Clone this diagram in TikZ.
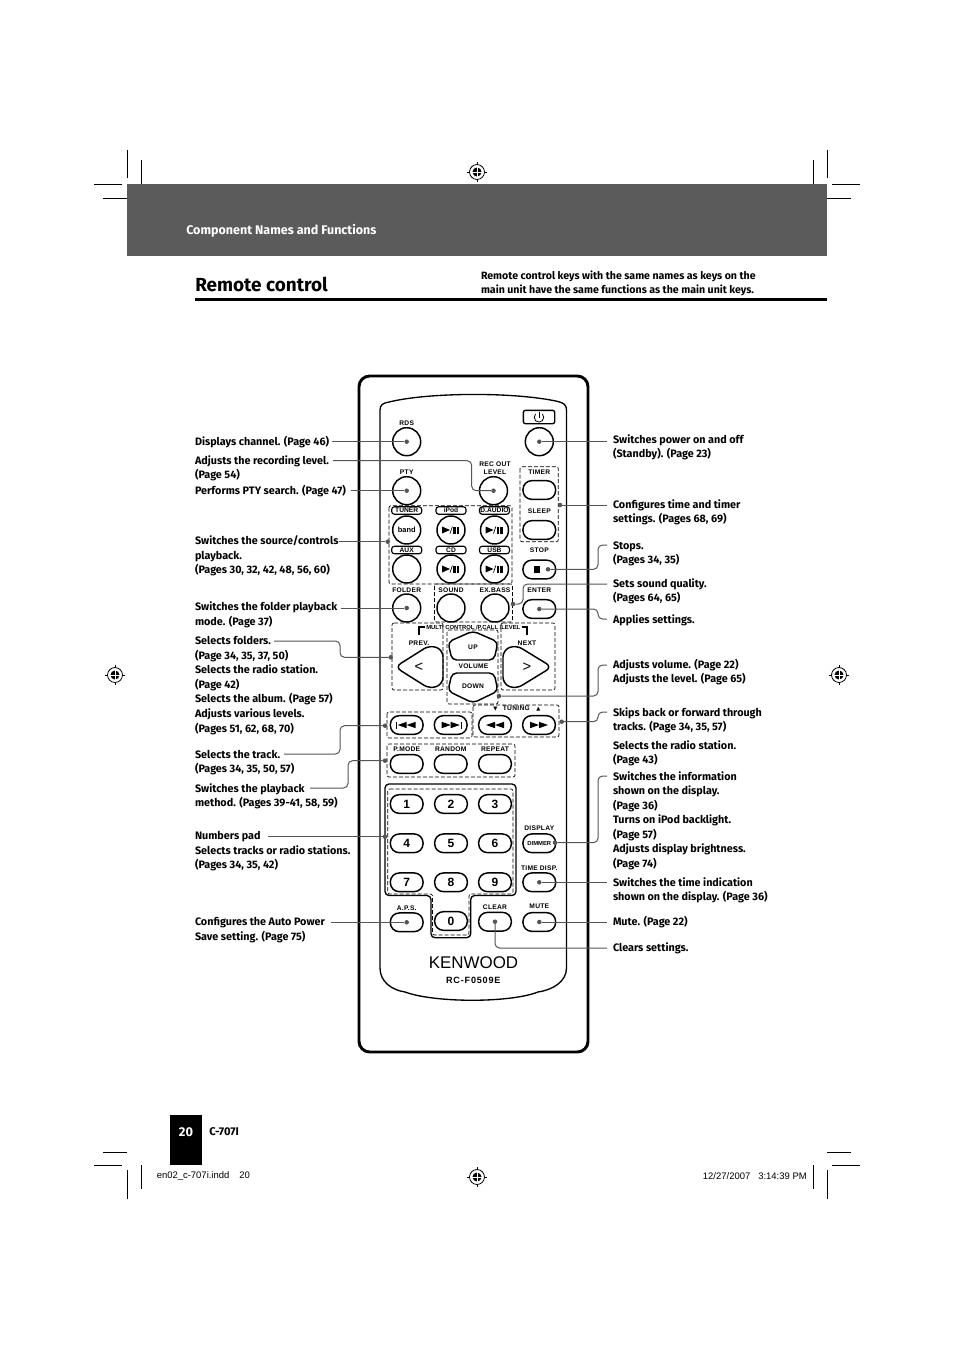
\documentclass[tikz,border=0pt]{standalone}
\usepackage{fontspec}
\setmainfont{Fira Sans}
\newfontfamily\keyf{Liberation Sans}
\newfontfamily\keyw[LetterSpace=4]{Liberation Sans}
\newfontfamily\keyx[LetterSpace=9]{Liberation Sans}
\usetikzlibrary{calc}
\definecolor{leadc}{HTML}{555555}
\definecolor{headc}{HTML}{5B5B5B}
\tikzset{
  x=.75pt,y=-.75pt,
  crop/.style={line width=.75pt,black},
  body/.style={line width=2.2pt,black,rounded corners=8pt},
  panel/.style={line width=1pt,black},
  lead/.style={line width=.75pt,leadc,rounded corners=3.4pt},
  dot/.style={circle,fill=leadc,inner sep=0,outer sep=0,minimum size=3.4pt},
  dashbox/.style={line width=.5pt,dash pattern=on 3pt off 1.5pt,black,rounded corners=1.5pt},
  circbtn/.style={circle,draw,line width=1.1pt,inner sep=0,minimum size=21pt},
  pillbtn/.style={rectangle,draw,line width=1.1pt,rounded corners=6.6pt,inner sep=0,minimum width=24.5pt,minimum height=14pt},
  tagbtn/.style={rectangle,draw,line width=.85pt,rounded corners=2pt,inner sep=0,minimum width=22.5pt,minimum height=5.6pt,font=\keyf\bfseries\fontsize{5}{5}\selectfont},
  keylab/.style={inner sep=0,font=\keyw\bfseries\fontsize{5}{6}\selectfont,align=center},
  numlab/.style={font=\keyf\bfseries\fontsize{9}{10}\selectfont},
  note/.style={anchor=north west,inner sep=0,outer sep=0,align=left,font=\bfseries\fontsize{8.1}{10.9}\selectfont},
}
\newcommand\fs{\rule{0pt}{7.5pt}}
\newcommand\lab[4]{\node[note] (#1) at (#2,#3-5.7) {\fs #4};}
\newcommand\regmark[1]{%
  \draw[line width=.4pt] ($(#1)+(-10,0)$) -- ($(#1)+(10,0)$) ($(#1)+(0,-10)$) -- ($(#1)+(0,10)$);
  \draw[line width=.6pt,fill=white] (#1) circle (5.6pt);
  \fill (#1) circle (3.4pt);
  \draw[white,line width=.5pt] ($(#1)+(-4.6,0)$) -- ($(#1)+(4.6,0)$) ($(#1)+(0,-4.6)$) -- ($(#1)+(0,4.6)$);
}
\newcommand\playpause[1]{%
  \fill ($(#1)+(-9,-3.5)$) -- ($(#1)+(-1,0)$) -- ($(#1)+(-9,3.5)$) -- cycle;
  \draw[line width=.5pt] ($(#1)+(-1,3.6)$) -- ($(#1)+(1.4,-3.6)$);
  \fill ($(#1)+(2.2,-3.5)$) rectangle ($(#1)+(4.6,3.5)$);
  \fill ($(#1)+(5.8,-3.5)$) rectangle ($(#1)+(8.2,3.5)$);
}
\newcommand\dtri[2]{%
  \fill ($(#1)+(-9*#2,-3.2)$) -- ($(#1)+(0,0)$) -- ($(#1)+(-9*#2,3.2)$) -- cycle;
  \fill ($(#1)+(0,-3.2)$) -- ($(#1)+(9*#2,0)$) -- ($(#1)+(0,3.2)$) -- cycle;
}
\begin{document}
\begin{tikzpicture}
\useasboundingbox (0,0) rectangle (954,1350);
% header
\fill[headc] (127,184) rectangle (827,256);
\node[anchor=west,inner sep=0,white,font=\bfseries\fontsize{9.4}{11}\selectfont] (section) at (186,230.5) {Component Names and Functions};
\node[anchor=base west,inner sep=0,font=\bfseries\fontsize{14.2}{18}\selectfont] (title) at (195,291) {Remote control};
\fill (195,298) rectangle (827,301);
\node[note,font=\bfseries\fontsize{7.95}{10.9}\selectfont] (intro) at (481,269.3) {\fs Remote control keys with the same names as keys on the\\main unit have the same functions as the main unit keys.};
% crop marks
\draw[crop] (127.5,150)--(127.5,178) (141.5,160)--(141.5,184) (94,184)--(122,184) (103,198)--(127,198);
\draw[crop] (827.5,150)--(827.5,178) (813.5,160)--(813.5,184) (832,184)--(860,184) (827,198)--(851,198);
\draw[crop] (127.5,1170)--(127.5,1199) (141.5,1165)--(141.5,1189) (94,1165)--(122,1165) (103,1152)--(127,1152);
\draw[crop] (827.5,1170)--(827.5,1199) (813.5,1165)--(813.5,1189) (832,1165)--(860,1165) (827,1152)--(851,1152);
\coordinate (r1) at (477,172); \coordinate (r2) at (477,1177); \coordinate (r3) at (115,675); \coordinate (r4) at (839,675);
\regmark{r1}\regmark{r2}\regmark{r3}\regmark{r4}
% footer
\fill (170,1115) rectangle (202,1165);
\node[white,inner sep=0,font=\bfseries\fontsize{9.6}{12}\selectfont] (pageno) at (186,1132) {20};
\node[anchor=west,inner sep=0,font=\bfseries\fontsize{8.4}{10}\selectfont] (model) at (209,1132) {C-707I};
\node[anchor=west,inner sep=0,font=\keyf\fontsize{7.1}{9}\selectfont] (fileinfo) at (156.5,1176) {en02\_c-707i.indd\hspace{7.5pt}20};
\node[anchor=east,inner sep=0,font=\keyf\fontsize{7.1}{9}\selectfont] (dateinfo) at (807,1176) {12/27/2007\hspace{6pt}3:14:39 PM};
% remote body
\draw[body] (359,376) rectangle (588,1052);
\draw[panel] (380,968) -- (380,410) .. controls (380,405) and (383,403) .. (389,402)
  .. controls (430,392) and (516,392) .. (558,401.5) .. controls (564,403) and (566.5,405) .. (566.5,410)
  -- (566.5,968) .. controls (566.5,982) and (552,990) .. (538,992)
  .. controls (510,1003) and (435,1003) .. (405,992) .. controls (392,990) and (380,982) .. (380,968);
% dashed groups
\draw[dashbox] (389,505.7) rectangle (512,584);
\draw[dashbox] (434.5,584) rectangle (512.5,622);
\draw[dashbox] (520,466.7) rectangle (558.3,541.7);
\draw[dashbox] (392,623) -- (443,623) -- (443,690) -- (392,690) -- cycle;
\draw[dashbox] (447,630) rectangle (498,704);
\draw[dashbox] (501,623) -- (555,623) -- (555,690) -- (501,690) -- cycle;
\draw[dashbox] (387,712) rectangle (472,738);
\draw[dashbox] (473,705) rectangle (559,737);
\draw[dashbox] (387,744) rectangle (515,777);
% number pad outline
\draw[line width=1pt,rounded corners=3pt] (385,784) -- (516,784) -- (516,895.5) -- (470.7,895.5) -- (470.7,937.7) -- (431,937.7) -- (431,895.5) -- (385,895.5) -- cycle;
\draw[dashbox] (387.7,789) -- (513,789) -- (513,894) -- (469,894) -- (469,935) -- (432.5,935) -- (432.5,894) -- (387.7,894) -- cycle;
% circular buttons
\node[circbtn] (rds) at (406.7,441.7) {};
\node[circbtn] (power) at (539.3,441.7) {};
\node[circbtn] (pty) at (406.7,490.7) {};
\node[circbtn] (rec) at (493.5,490.7) {};
\node[circbtn,font=\keyf\bfseries\fontsize{5.6}{6}\selectfont] (band) at (406.7,530) {band};
\node[circbtn] (ipod) at (451,530) {};
\node[circbtn] (daudio) at (494.5,530) {};
\node[circbtn] (aux) at (406.7,569) {};
\node[circbtn] (cd) at (451,569) {};
\node[circbtn] (usb) at (494.5,569) {};
\node[circbtn] (folder) at (406.7,608) {};
\node[circbtn] (sound) at (451,608) {};
\node[circbtn] (exbass) at (495,608) {};
\playpause{ipod}\playpause{daudio}\playpause{cd}\playpause{usb}
% power tag
\node[draw,line width=1pt,rounded corners=1.5pt,inner sep=0,minimum width=23.5pt,minimum height=10pt] (powertag) at (539,417) {};
\draw[line width=.6pt] (535.6,413.9) arc[start angle=135,end angle=405,radius=3.6pt];
\draw[line width=.6pt] (539,411.5) -- (539,418);
% source tags
\node[tagbtn] (tuner) at (406.7,510.5) {TUNER};
\node[tagbtn] (ipodt) at (451,510.5) {iPod};
\node[tagbtn] (dauct) at (494.5,510.5) {D.AUDIO};
\node[tagbtn] (auxt) at (406.7,550) {AUX};
\node[tagbtn] (cdt) at (451,550) {CD};
\node[tagbtn] (usbt) at (494.5,550) {USB};
% pills right column
\node[pillbtn] (timer) at (539.3,490) {};
\node[pillbtn] (sleep) at (539.3,530) {};
\node[pillbtn] (stop) at (539.3,569.5) {};
\fill (533.8,566) rectangle (540,573);
\node[pillbtn] (enter) at (539.3,609) {};
% key labels
\node[keylab] (lrds) at (406.7,422.7) {RDS};
\node[keylab] (lpty) at (406.7,471.7) {PTY};
\node[keylab] (lrec) at (495,468) {REC OUT\\LEVEL};
\node[keylab] (ltimer) at (539.3,471.7) {TIMER};
\node[keylab] (lsleep) at (539.3,511) {SLEEP};
\node[keylab] (lstop) at (539.3,550.3) {STOP};
\node[keylab] (lenter) at (539.3,590) {ENTER};
\node[keylab] (lfolder) at (406.7,590) {FOLDER};
\node[keylab] (lsound) at (451,590) {SOUND};
\node[keylab] (lexb) at (495,590) {EX.BASS};
% multi control
\node[inner sep=0,font=\keyf\bfseries\fontsize{4.4}{5}\selectfont] (lmulti) at (473.3,627) {MULTI CONTROL /P.CALL /LEVEL};
\draw[line width=1pt] (419,635) -- (419,627) -- (425,627);
\draw[line width=1pt] (527,635) -- (527,627) -- (521.5,627);
\draw[line width=1.1pt,rounded corners=5pt] (395,667) -- (430,645) -- (443,650) -- (443,684) -- (430,689) -- cycle;
\draw[line width=1.1pt,rounded corners=5pt] (552,667) -- (516,645) -- (503,650) -- (503,684) -- (516,689) -- cycle;
\draw[line width=1.1pt,rounded corners=3.5pt] (473,631) -- (498,642) -- (494,660) -- (452,660) -- (448,642) -- cycle;
\draw[line width=1.1pt,rounded corners=3.5pt] (473,703) -- (498,691) -- (494,673) -- (452,673) -- (448,691) -- cycle;
\node[keylab] (lprev) at (419,643) {PREV.};
\node[keylab] (lnext) at (527,643) {NEXT};
\node[keylab] (lup) at (473,647) {UP};
\node[keylab] (ldown) at (473,686) {DOWN};
\node[keylab] (lvol) at (473.5,666) {VOLUME};
\node[inner sep=0,font=\keyf\fontsize{11}{12}\selectfont] (lt) at (419,667) {<};
\node[inner sep=0,font=\keyf\fontsize{11}{12}\selectfont] (gt) at (527,667) {>};
% transport row
\node[pillbtn] (skipb) at (406.7,725) {};
\node[pillbtn] (skipf) at (450.7,725) {};
\node[pillbtn] (rew) at (495,725) {};
\node[pillbtn] (ffw) at (539,725) {};
\dtri{skipb}{-1}\dtri{skipf}{1}\dtri{rew}{-1}\dtri{ffw}{1}
\draw[line width=.9pt] (396.2,721.5) -- (396.2,728.5) (461.2,721.5) -- (461.2,728.5);
\node[keylab] (ltuning) at (517,708) {\fontspec{DejaVu Sans}\fontsize{4}{5}\selectfont ▼\quad\keyw\bfseries\fontsize{5}{6}\selectfont TUNING\quad\fontspec{DejaVu Sans}\fontsize{4}{5}\selectfont ▲};
% mode row
\node[pillbtn] (pmode) at (406.7,764) {};
\node[pillbtn] (random) at (450.7,764) {};
\node[pillbtn] (repeatb) at (495,764) {};
\node[keylab] (lpmode) at (406.7,749) {P.MODE};
\node[keylab] (lrandom) at (450.7,749) {RANDOM};
\node[keylab] (lrepeat) at (495,749) {REPEAT};
% number keys
\node[pillbtn,numlab] (n1) at (406.7,804) {1};
\node[pillbtn,numlab] (n2) at (451,804) {2};
\node[pillbtn,numlab] (n3) at (495,804) {3};
\node[pillbtn,numlab] (n4) at (406.7,843.3) {4};
\node[pillbtn,numlab] (n5) at (451,843.3) {5};
\node[pillbtn,numlab] (n6) at (495,843.3) {6};
\node[pillbtn,numlab] (n7) at (406.7,882.3) {7};
\node[pillbtn,numlab] (n8) at (451,882.3) {8};
\node[pillbtn,numlab] (n9) at (495,882.3) {9};
\node[pillbtn,numlab] (n0) at (451,921) {0};
\node[pillbtn] (aps) at (406.7,922.3) {};
\node[pillbtn] (clear) at (495,921.7) {};
\node[pillbtn] (mute) at (539.3,922) {};
\node[pillbtn,font=\keyf\bfseries\fontsize{4.4}{5}\selectfont] (dimmer) at (539.3,843.3) {DIMMER};
\node[pillbtn] (timedisp) at (539.3,882.3) {};
\node[keylab] (ldisplay) at (539.3,827.7) {DISPLAY};
\node[keylab] (ltimed) at (539.3,868) {TIME DISP.};
\node[keylab] (laps) at (406.7,907.7) {A.P.S.};
\node[keylab] (lclear) at (495,906.7) {CLEAR};
\node[keylab] (lmute) at (539.3,906.7) {MUTE};
\node[inner sep=0,font=\keyf\fontsize{12.7}{14}\selectfont] (brand) at (473.5,962.5) {KENWOOD};
\node[inner sep=0,font=\keyx\bfseries\fontsize{6.8}{8}\selectfont] (modelno) at (473.3,980) {RC-F0509E};
% left notes
\lab{a1}{195}{441}{Displays channel. (Page 46)}
\lab{a2}{195}{460}{Adjusts the recording level.\\(Page 54)}
\lab{a3}{195}{490.5}{Performs PTY search. (Page 47)}
\lab{a4}{195}{540.5}{Switches the source/controls\\playback.\\(Pages 30, 32, 42, 48, 56, 60)}
\lab{a5}{195}{606.5}{Switches the folder playback\\mode. (Page 37)}
\lab{a6}{195}{640.5}{Selects folders.\\(Page 34, 35, 37, 50)\\Selects the radio station.\\(Page 42)\\Selects the album. (Page 57)\\Adjusts various levels.\\(Pages 51, 62, 68, 70)}
\lab{a7}{195}{754}{Selects the track.\\(Pages 34, 35, 50, 57)}
\lab{a8}{195}{788}{Switches the playback\\method. (Pages 39-41, 58, 59)}
\lab{a9}{195}{835.5}{Numbers pad\\Selects tracks or radio stations.\\(Pages 34, 35, 42)}
\lab{a10}{195}{921.5}{Configures the Auto Power\\Save setting. (Page 75)}
% right notes
\lab{b1}{613}{439}{Switches power on and off\\(Standby). (Page 23)}
\lab{b2}{613}{504}{Configures time and timer\\settings. (Pages 68, 69)}
\lab{b3}{613}{545}{Stops.\\(Pages 34, 35)}
\lab{b4}{613}{583}{Sets sound quality.\\(Pages 64, 65)}
\lab{b5}{613}{619}{Applies settings.}
\lab{b6}{613}{664}{Adjusts volume. (Page 22)\\Adjusts the level. (Page 65)}
\lab{b7}{613}{712}{Skips back or forward through\\tracks. (Page 34, 35, 57)}
\lab{b8}{613}{745}{Selects the radio station.\\(Page 43)}
\lab{b9}{613}{776}{Switches the information\\shown on the display.\\(Page 36)\\Turns on iPod backlight.\\(Page 57)\\Adjusts display brightness.\\(Page 74)}
\lab{b10}{613}{882}{Switches the time indication\\shown on the display. (Page 36)}
\lab{b11}{613}{921}{Mute. (Page 22)}
\lab{b12}{613}{947}{Clears settings.}
% dots
\node[dot] (d1) at (rds.center) {};
\node[dot] (d2) at (rec.center) {};
\node[dot] (d3) at (pty.center) {};
\node[dot] (d4) at (387.7,541.7) {};
\node[dot] (d5) at (folder.center) {};
\node[dot] (d6) at (390.7,657.3) {};
\node[dot] (d7) at (385,725.7) {};
\node[dot] (d8) at (385,760.7) {};
\node[dot] (d9) at (385,836.7) {};
\node[dot] (d10) at (aps.center) {};
\node[dot] (e1) at (power.center) {};
\node[dot] (e2) at (560,505) {};
\node[dot] (e3) at (548,569.3) {};
\node[dot] (e4) at (513,604) {};
\node[dot] (e5) at (enter.center) {};
\node[dot] (e6) at (499,696) {};
\node[dot] (e7) at (561.7,721.7) {};
\node[dot] (e8) at (555,842.7) {};
\node[dot] (e9) at (timedisp.center) {};
\node[dot] (e10) at (mute.center) {};
\node[dot] (e11) at (clear.center) {};
% free ends, left
\coordinate (f1) at (332,441.7);
\coordinate (f2) at (333,460.7);
\coordinate (f3) at (351,490.7);
\coordinate (f4) at (339,541.7);
\coordinate (f5) at (341,608);
\coordinate (f6) at (274,641);
\coordinate (f7) at (284,754);
\coordinate (f8) at (310,788);
\coordinate (f9) at (268,836.7);
\coordinate (f10) at (331,922.3);
% free ends, right
\coordinate (g1) at (607,441.7);
\coordinate (g2) at (607,505);
\coordinate (g3) at (607,545);
\coordinate (g4) at (607,584);
\coordinate (g5) at (607,619);
\coordinate (g6) at (607,665);
\coordinate (g7) at (607,712);
\coordinate (g8) at (607,776);
\coordinate (g9) at (607,882.3);
\coordinate (g10) at (607,922);
\coordinate (g11) at (607,948);
% connectors, left
\draw[lead] (f1) -- (d1);
\draw[lead] (f2) -- (471.7,460.7) -- (471.7,490.7) -- (d2);
\draw[lead] (f3) -- (d3);
\draw[lead] (f4) -- (d4);
\draw[lead] (f5) -- (d5);
\draw[lead] (f6) -- (340,641) -- (340,657.3) -- (d6);
\draw[lead] (f7) -- (340,754) -- (340,725.7) -- (d7);
\draw[lead] (f8) -- (348,788) -- (348,760.7) -- (d8);
\draw[lead] (f9) -- (d9);
\draw[lead] (f10) -- (d10);
% connectors, right
\draw[lead] (e1) -- (g1);
\draw[lead] (e2) -- (g2);
\draw[lead] (e3) -- (598,569.3) -- (598,545) -- (g3);
\draw[lead] (e4) -- (523,604) -- (523,584) -- (g4);
\draw[lead] (e5) -- (598,609) -- (598,619) -- (g5);
\draw[lead] (e6) -- (598,696) -- (598,665) -- (g6);
\draw[lead] (e7) -- (598,721.7) -- (598,712) -- (g7);
\draw[lead] (e8) -- (598,842.7) -- (598,776) -- (g8);
\draw[lead] (e9) -- (g9);
\draw[lead] (e10) -- (g10);
\draw[lead] (e11) -- (495,948) -- (g11);
\end{tikzpicture}
\end{document}
